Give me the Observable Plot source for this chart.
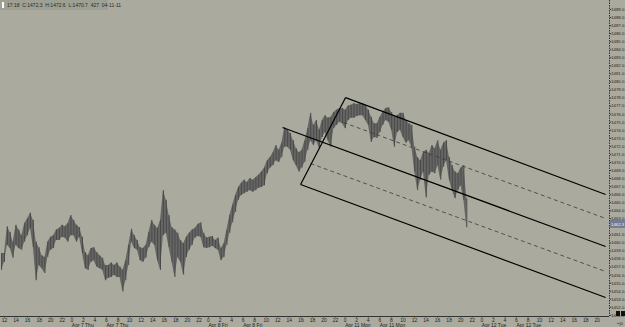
<!DOCTYPE html>
<html><head><meta charset="utf-8">
<script src="https://cdn.jsdelivr.net/npm/d3@7"></script>
<script src="https://cdn.jsdelivr.net/npm/@observablehq/plot@0.6"></script>
<style>html,body{margin:0;padding:0;background:#aaab9e;overflow:hidden;width:625px;height:327px}</style>
</head><body><div id="chart"></div>
<script>
// ---- data ----
const barStartHour = -0.5;   // session hours from Apr 6 12:00
const barStepHour = 0.5;
const highs = [1458.7,1458.7,1462.0,1461.3,1460.1,1462.2,1461.6,1460.9,1462.4,1463.0,1463.7,1462.8,1460.1,1459.4,1458.4,1458.2,1460.1,1460.7,1460.9,1461.6,
1461.8,1462.2,1462.0,1462.4,1463.4,1462.8,1462.2,1461.9,1460.7,1458.8,1458.4,1459.3,1459.4,1458.8,1458.4,1458.1,1457.2,1457.2,1457.5,1457.2,
1457.5,1457.0,1456.6,1457.8,1459.7,1461.7,1460.9,1460.3,1459.4,1459.3,1459.7,1461.3,1462.8,1462.2,1461.8,1462.8,1466.5,1465.3,1463.4,1461.9,
1461.6,1461.2,1460.3,1459.9,1460.7,1461.2,1461.6,1461.8,1462.3,1462.5,1461.2,1460.6,1460.7,1460.8,1460.3,1460.6,1459.3,1459.9,1461.6,1463.4,
1464.7,1465.9,1466.9,1467.4,1467.8,1467.5,1468.0,1467.8,1468.1,1468.4,1468.8,1469.3,1470.2,1470.6,1471.2,1472.1,1471.5,1472.4,1474.3,1474.0,
1473.6,1472.7,1471.7,1471.2,1471.5,1472.7,1474.2,1476.1,1474.6,1475.2,1474.0,1475.2,1475.8,1475.5,1475.6,1476.2,1476.5,1476.7,1476.7,1476.5,
1477.0,1477.1,1477.3,1477.2,1477.3,1477.3,1477.1,1476.5,1475.6,1474.8,1474.8,1475.6,1476.2,1476.7,1476.8,1476.2,1475.6,1475.8,1476.1,1476.1,
1475.2,1474.8,1474.6,1471.9,1470.6,1470.2,1471.2,1471.5,1471.1,1472.1,1471.7,1472.7,1471.5,1472.4,1472.7,1470.6,1469.6,1468.8,1468.6,1469.3,
1469.6,1465.5];
const lows = [1456.6,1457.6,1459.7,1459.3,1458.1,1459.7,1459.3,1459.1,1460.1,1460.9,1461.8,1459.4,1455.3,1457.2,1456.8,1456.2,1458.2,1459.1,1459.3,1460.3,
1460.3,1460.7,1460.6,1460.1,1460.9,1460.9,1460.1,1460.7,1458.7,1456.8,1456.6,1457.6,1457.8,1457.0,1456.8,1456.6,1455.3,1455.6,1455.7,1456.0,
1455.7,1455.7,1453.9,1455.3,1457.2,1460.1,1459.3,1459.1,1457.8,1457.6,1458.1,1459.4,1460.1,1459.7,1457.8,1456.6,1460.9,1461.2,1459.4,1457.6,
1455.7,1458.2,1457.6,1456.0,1458.2,1459.1,1459.7,1460.6,1460.8,1460.7,1459.4,1459.3,1459.4,1459.6,1459.3,1459.1,1457.8,1458.2,1459.7,1461.2,
1462.5,1463.8,1465.3,1465.9,1466.1,1466.3,1466.5,1466.3,1466.5,1466.8,1466.9,1467.1,1468.6,1469.3,1469.6,1470.2,1470.0,1470.6,1471.9,1471.9,
1471.5,1470.2,1469.6,1468.8,1469.3,1470.0,1471.5,1472.7,1472.1,1472.7,1471.7,1473.1,1473.7,1472.7,1471.9,1474.2,1474.6,1475.0,1474.8,1474.2,
1475.2,1475.5,1475.5,1475.7,1475.8,1475.8,1475.2,1474.6,1472.5,1473.1,1473.0,1473.7,1474.6,1475.2,1475.0,1474.0,1471.9,1473.7,1474.0,1473.1,
1472.4,1472.7,1471.9,1468.8,1466.5,1467.8,1468.8,1465.6,1468.4,1468.8,1468.6,1469.6,1467.8,1469.4,1470.2,1467.8,1466.5,1465.5,1466.5,1467.1,
1465.3,1461.9];
const sessionDays = ["Apr 6 Wed","Apr 7 Thu","Apr 8 Fri","Apr 11 Mon","Apr 12 Tue"];
const sessionHours = [
  [12,14,16,18,20,22],
  [0,2,4,6,8,10,12,14,16,18,20,22],
  [0,2,4,6,8,10,12,14,16,18,20,22],
  [0,2,4,6,8,10,12,14,16,18,20,22],
  [0,2,4,6,8,10,12,14,16,18,20]
];
const dateLabelHours = [0, 6];
const dayLength = 23.65; // session hours per day on the axis
const priceTicks = d3.range(1451, 1490);
const lastPrice = 1462.3;
const headerText = "17:18  C:1472.3  H:1472.6  L:1470.7  427  04-11-11";
// channel drawing anchors (time in session hours, price)
const lineStartT = [59.03, 58.68, 48.12, 52.97, 51.24, 51.24];
const lineStartP = [1478.06, 1474.96, 1474.34, 1469.87, 1467.26, 1467.26];
const lineEndT   = [104.03, 104.03, 104.03, 104.03, 104.03, 59.03];
const lineEndP   = [1466.02, 1463.04, 1459.56, 1456.45, 1453.22, 1478.06];
const lineDashed = [false, true, false, true, false, false];

// ---- build tables ----
const bars = highs.map((h, i) => ({t: barStartHour + barStepHour * i, hi: h, lo: lows[i]}));
const hourTicks = [];
sessionHours.forEach((hs, d) => hs.forEach(h => hourTicks.push({t: d * dayLength + h - 12, label: String(h)})));
const labelMap = new Map(hourTicks.map(d => [d.t, d.label]));
const dateLabels = [];
sessionDays.forEach((name, d) => { if (d > 0) dateLabelHours.forEach(h => dateLabels.push({t: d * dayLength + h - 12, label: name})); });
const lines = lineStartT.map((t, i) => ({t1: t, p1: lineStartP[i], t2: lineEndT[i], p2: lineEndP[i], dashed: lineDashed[i]}));
const shownPriceTicks = priceTicks.filter(p => Math.abs(p - lastPrice) > 0.6);

const xDomain = [-0.69, 104.7];
const yDomain = [1450.86, 1490.12];
const font = "'Liberation Sans Narrow','Liberation Sans',Arial,sans-serif";

const chart = Plot.plot({
  width: 625, height: 327,
  marginLeft: 0, marginRight: 16, marginTop: 0, marginBottom: 11,
  style: {background: "#aaab9e", fontFamily: font, color: "#222", overflow: "visible"},
  x: {domain: xDomain, axis: null},
  y: {domain: yDomain, axis: null},
  marks: [
    Plot.areaY(bars, {x: "t", y1: "lo", y2: "hi", fill: "#5a5a5a", fillOpacity: 0.85}),
    Plot.ruleX(bars, {x: "t", y1: "lo", y2: "hi", stroke: "#4a4a4a", strokeWidth: 1}),
    Plot.link(lines.filter(d => d.dashed), {x1: "t1", y1: "p1", x2: "t2", y2: "p2", stroke: "#3a3a3a", strokeWidth: 0.8, strokeDasharray: "4,3"}),
    Plot.link(lines.filter(d => !d.dashed), {x1: "t1", y1: "p1", x2: "t2", y2: "p2", stroke: "#000", strokeWidth: 1.2}),
    Plot.ruleY([yDomain[0]], {stroke: "#333", strokeWidth: 1}),
    Plot.ruleX([xDomain[1]], {stroke: "#333", strokeWidth: 1, strokeDasharray: "1.5,1"}),
    Plot.axisX({ticks: hourTicks.map(d => d.t), tickFormat: d => labelMap.get(d), tickSize: 1.5, tickPadding: 0.5, fontSize: 5, stroke: "#333", fill: "#222"}),
    Plot.text(dateLabels, {x: "t", text: "label", frameAnchor: "bottom", dy: 8.6, textAnchor: "start", lineAnchor: "middle", fontSize: 5, fill: "#222"}),
    Plot.axisY({anchor: "right", ticks: shownPriceTicks, tickFormat: d => d.toFixed(1), tickSize: 1.2, tickPadding: 0.5, fontSize: 4.3, stroke: "#333", fill: "#222"})
  ]
});
document.getElementById("chart").appendChild(chart);

// decorations: header box, last-price label, corner buttons
const svg = d3.select(chart);
const yScale = chart.scale("y");
const py = yScale.apply(lastPrice);
const g = svg.append("g").style("font-family", font).attr("text-anchor", "start");
g.append("rect").attr("x", 0).attr("y", 0).attr("width", 108).attr("height", 10).attr("fill", "#9fa094");
g.append("rect").attr("x", 2).attr("y", 2).attr("width", 2).attr("height", 6).attr("fill", "#fff");
g.append("text").attr("x", 7).attr("y", 6.7).attr("font-size", 5).attr("fill", "#2a2a2a").attr("text-anchor", "start").style("white-space", "pre").text(headerText);
g.append("rect").attr("x", 610).attr("y", py - 4).attr("width", 15).attr("height", 8).attr("fill", "#747c94");
g.append("text").attr("x", 611).attr("y", py + 1.6).attr("font-size", 4.3).attr("fill", "#eef").attr("text-anchor", "start").text(lastPrice.toFixed(1));
g.append("rect").attr("x", 616).attr("y", 311).attr("width", 4).attr("height", 5).attr("fill", "#111");
g.append("rect").attr("x", 621).attr("y", 311).attr("width", 4).attr("height", 5).attr("fill", "#111");
g.append("text").attr("x", 617).attr("y", 325).attr("font-size", 4.3).attr("fill", "#222").attr("text-anchor", "start").text("«|0");
</script></body></html>
